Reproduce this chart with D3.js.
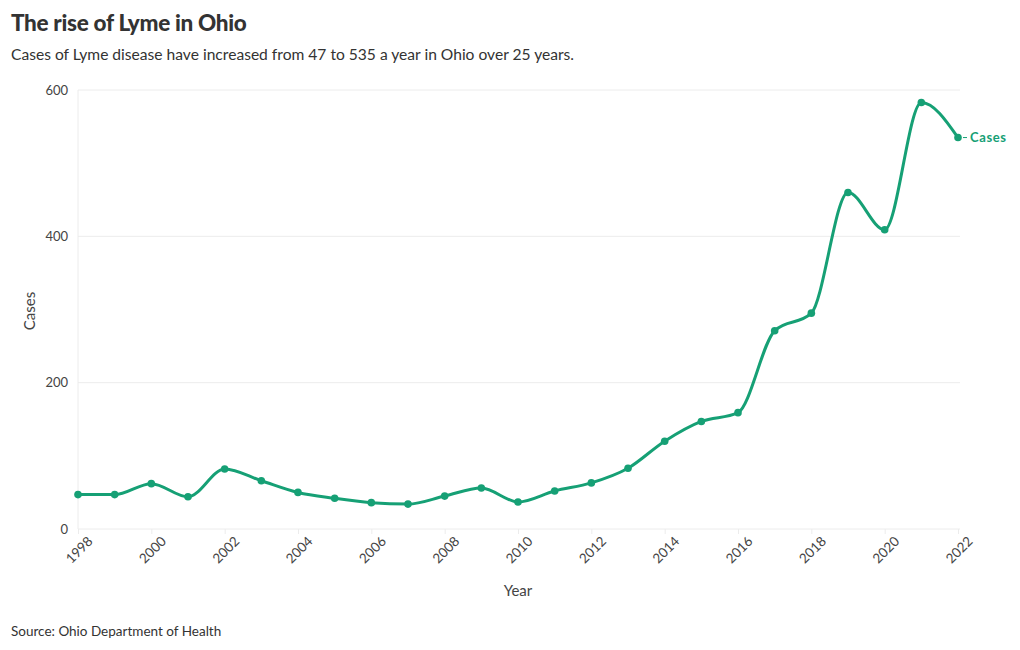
<!DOCTYPE html>
<html><head><meta charset="utf-8">
<script src="https://cdn.jsdelivr.net/npm/d3@7"></script>
<style>
body{margin:0;background:#fff;font-family:"Source Sans Pro","Lato","Noto Sans",sans-serif;}
</style></head><body>
<svg id="c" width="1020" height="650"></svg>
<script>
const years = [1998,1999,2000,2001,2002,2003,2004,2005,2006,2007,2008,2009,2010,2011,2012,2013,2014,2015,2016,2017,2018,2019,2020,2021,2022];
const cases = [47,47,62,44,82,66,50,42,36,34,45,56,37,52,63,83,120,147,159,271,295,460,409,583,535];
const yTicks = [0,200,400,600];
const xTicks = [1998,2000,2002,2004,2006,2008,2010,2012,2014,2016,2018,2020,2022];
const seriesName = "Cases";
const color = "#16a075";

const svg = d3.select("#c");
const font = '"Lato","Noto Sans",sans-serif';
const x = d3.scaleLinear().domain([1998,2022]).range([78,958]);
const y = d3.scaleLinear().domain([0,600]).range([529,90]);

svg.append("text").attr("x",11).attr("y",31).attr("font-family",font).attr("font-weight",900)
  .attr("font-size",22.5).attr("fill","#333").attr("letter-spacing","-0.3").text("The rise of Lyme in Ohio");
svg.append("text").attr("x",11).attr("y",60).attr("font-family",font)
  .attr("font-size",15.6).attr("fill","#333").text("Cases of Lyme disease have increased from 47 to 535 a year in Ohio over 25 years.");

// grid
const g = svg.append("g");
g.selectAll("line.h").data(yTicks).join("line")
  .attr("x1",78).attr("x2",960).attr("y1",d=>y(d)).attr("y2",d=>y(d))
  .attr("stroke","#ececec").attr("stroke-width",1);
g.append("line").attr("x1",78).attr("x2",78).attr("y1",90).attr("y2",529).attr("stroke","#ececec");

const yAxis = d3.axisLeft(y).tickValues(yTicks).tickSize(0).tickPadding(10);
const ya = svg.append("g").attr("transform","translate(78,0)").call(yAxis);
ya.select(".domain").remove();
ya.selectAll("text").attr("font-family",font).attr("font-size",13).attr("fill","#444");

const xAxis = d3.axisBottom(x).tickValues(xTicks).tickFormat(d3.format("d")).tickSize(5).tickPadding(4);
const xa = svg.append("g").attr("transform","translate(0,529)").call(xAxis);
xa.select(".domain").remove();
xa.selectAll("line").attr("stroke","#ececec");
xa.selectAll("text").attr("font-family",font).attr("font-size",13.5).attr("fill","#444")
  .attr("text-anchor","end").attr("transform","translate(4,2) rotate(-45)").attr("dy","0.5em");

svg.append("text").attr("x",518).attr("y",596).attr("text-anchor","middle").attr("font-family",font)
  .attr("font-size",15).attr("fill","#444").text("Year");
svg.append("text").attr("transform","translate(35,311) rotate(-90)").attr("text-anchor","middle").attr("font-family",font)
  .attr("font-size",15).attr("fill","#444").text("Cases");

const data = years.map((yr,i)=>({yr,v:cases[i]}));
const line = d3.line().x(d=>x(d.yr)).y(d=>y(d.v)).curve(d3.curveMonotoneX);
svg.append("path").datum(data).attr("d",line).attr("fill","none").attr("stroke",color).attr("stroke-width",3);
svg.selectAll("circle").data(data).join("circle").attr("cx",d=>x(d.yr)).attr("cy",d=>y(d.v)).attr("r",3.8).attr("fill",color);

const last = data[data.length-1];
svg.append("line").attr("x1",x(last.yr)+5).attr("x2",x(last.yr)+9).attr("y1",y(last.v)).attr("y2",y(last.v)).attr("stroke",color).attr("stroke-width",1);
svg.append("text").attr("x",x(last.yr)+12).attr("y",y(last.v)).attr("dy","0.35em").attr("font-family",font)
  .attr("font-weight",700).attr("font-size",13).attr("letter-spacing","0.6").attr("fill",color).text(seriesName);

svg.append("text").attr("x",11).attr("y",636).attr("font-family",font).attr("font-size",13.5).attr("fill","#333").text("Source: Ohio Department of Health");
</script></body></html>
